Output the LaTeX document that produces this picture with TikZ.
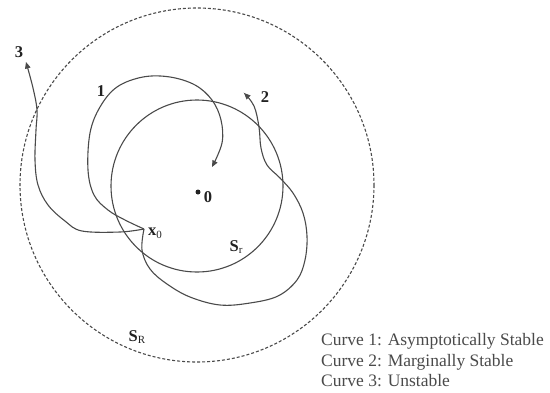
\documentclass[tikz,border=0pt]{standalone}
\usepackage{fontspec}
\setmainfont{Liberation Serif}
\usetikzlibrary{arrows.meta}
\definecolor{ink}{HTML}{4A4A4A}
\definecolor{txt}{HTML}{222222}
\newcommand{\sub}[1]{\raisebox{-0.35ex}{\fontsize{11}{11}\selectfont\mdseries #1}}

\begin{document}
\begin{tikzpicture}[x=1pt, y=-1pt,
    traj/.style={ink, line width=1.1pt},
    tip/.style={-{Triangle[length=6.5pt,width=5.5pt]}},
    lbl/.style={txt, font=\fontsize{16.5}{16.5}\selectfont\bfseries, inner sep=0pt},
    legend/.style={ink, font=\fontsize{17.5}{20}\selectfont, inner sep=0pt, anchor=base west}]
  \useasboundingbox (0,0) rectangle (550,392);

  % Regions S_R and S_r
  \draw[ink, line width=1.1pt, dash pattern=on 3pt off 2pt] (197,185) circle[radius=177];
  \draw[traj] (197,186) circle[radius=86];
  \node[lbl] (sbig) at (137,337) {S\sub{R}};
  \node[lbl] (ssmall) at (236,247) {S\sub{r}};

  % Origin and initial point
  \node[circle, fill=txt, inner sep=0pt, minimum size=5pt] (orig) at (198,192) {};
  \node[lbl] (origlbl) at (208,197) {0};
  \coordinate (x0) at (144,229);
  \node[lbl, anchor=west] (x0lbl) at (148,233) {x\sub{0}};

  % Curve 1
  \draw[traj, tip] plot[smooth, tension=0.6] coordinates {(x0) (125,220) (108,210) (94,195)
    (88,170) (90,133) (100,107) (117,87) (143,77) (170,77) (195,85) (212,100) (221,120)
    (222,143) (212,167)};
  \node[lbl] (lblone) at (101,91) {1};

  % Curve 2
  \draw[traj, tip] plot[smooth, tension=0.6] coordinates {(x0) (142,250) (150,269) (167,284)
    (190,297) (220,305) (250,303) (278,296) (297,280) (305,260) (307,236) (303,213)
    (293,193) (280,178) (267,165) (261,148) (259,127) (254,106) (244,93)};
  \node[lbl] (lbltwo) at (265,97) {2};

  % Curve 3
  \draw[traj, tip] plot[smooth, tension=0.6] coordinates {(x0) (120,232) (82,231) (65,221)
    (48,205) (38,185) (35,160) (36,130) (37,110) (33,88) (26,62)};
  \node[lbl] (lblthree) at (19,52) {3};

  % Legend
  \node[legend] (leg1) at (321,345) {Curve 1: Asymptotically Stable};
  \node[legend] (leg2) at (321,366) {Curve 2: Marginally Stable};
  \node[legend] (leg3) at (321,386) {Curve 3: Unstable};
\end{tikzpicture}
\end{document}
